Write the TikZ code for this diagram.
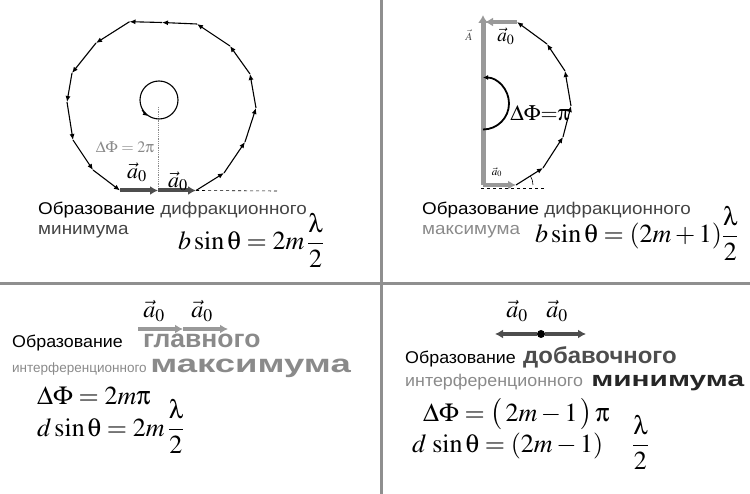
\documentclass[tikz,border=0pt]{standalone}
\usepackage{amsmath}
\usepackage{mathptmx}
\usepackage[Symbol]{upgreek}
\usepackage[no-math]{fontspec}
\newfontfamily\ru{Liberation Sans}
\usetikzlibrary{arrows.meta}

\begin{document}
\begin{tikzpicture}[x=1pt,y=-1pt,font=\ru\fontsize{17}{20}\selectfont]
  \definecolor{rule}{HTML}{8F8F8F}
  \definecolor{vecdark}{HTML}{4D4D4D}
  \definecolor{veclight}{HTML}{999999}
  \definecolor{softgray}{HTML}{8A8A8A}
  \definecolor{inkgray}{HTML}{444444}
  \tikzset{
    link/.style={line width=1.1pt,-{Latex[length=6pt,width=5pt]}},
    avec/.style={line width=4pt,-{Latex[length=8pt,width=9pt]}},
    txt/.style={anchor=base west,inner sep=0pt},
    wide/.style={xscale=#1,transform shape},
    heavy/.style={font=\ru\bfseries\fontsize{#1}{#1}\selectfont},
    formula/.style={anchor=base west,inner sep=0pt,font=\fontsize{26}{30}\selectfont},
    vlabel/.style={inner sep=0pt,font=\fontsize{22}{26}\selectfont},
  }
  \useasboundingbox (0,0) rectangle (750,494);
  % quadrant rules
  \draw[rule,line width=3pt] (381,0) -- (381,494);
  \draw[rule,line width=3pt] (0,284) -- (750,284);

  % (1) diffraction minimum: closed chain of 16 vectors
  \foreach \n/\px/\py in {0/120/190.5,1/158/190.5,2/196/190.5,3/224/173,4/245/142,
      5/256/108,6/250/74,7/230/46,8/197/24,9/162/22.5,10/129.5/21.7,11/96/43,
      12/72/73,13/67/102,14/73/140,15/93/170}
    \coordinate (p\n) at (\px,\py);
  \foreach \a/\b in {2/3,3/4,4/5,5/6,6/7,7/8,8/9,9/10,10/11,11/12,12/13,13/14,14/15,15/0}
    \draw[link] (p\a) -- (p\b);
  \coordinate (tl-dash) at (278,191);
  \coordinate (tl-axis) at (158,107);
  \draw[dashed,line width=0.6pt] (p2) -- (tl-dash);
  \draw[softgray,densely dotted,line width=0.8pt] (tl-axis) -- (p1);
  \draw[avec,vecdark] (p0) -- (p1);
  \draw[avec,vecdark] (p1) -- (p2);
  \node[circle,draw,line width=1.1pt,minimum size=38pt,inner sep=0pt] (loop) at (159,100) {};
  \draw[-{Latex[length=5pt,width=4pt]},line width=1.1pt] (loop.210) arc[start angle=150,end angle=124,radius=19];
  \node[text=softgray,inner sep=0pt,font=\fontsize{16}{18}\selectfont] (tl-phase) at (125,147) {$\Delta\Phi = 2\uppi$};
  \node[vlabel] (tl-a1) at (137,172) {$\vec a_0$};
  \node[vlabel] (tl-a2) at (178,181) {$\vec a_0$};
  \node[txt,wide=1.11] (tl-t1) at (38,215) {Образование \textcolor{inkgray}{дифракционного}};
  \node[txt,wide=1.11,text=inkgray] (tl-t2) at (38,235) {минимума};
  \node[formula] (tl-f) at (178,250) {$b\sin\uptheta = 2m\,\dfrac{\uplambda}{2}$};

  % (2) diffraction maximum: half turn
  \foreach \n/\px/\py in {0/516/185,1/543/168,2/563/137,3/571/106,4/565/71,5/547/44,6/517/22}
    \coordinate (q\n) at (\px,\py);
  \foreach \a/\b in {0/1,1/2,2/3,3/4,4/5,5/6}
    \draw[link] (q\a) -- (q\b);
  \coordinate (tr-base) at (483,185);
  \coordinate (tr-top) at (483,15);
  \coordinate (tr-corner) at (485,22);
  \coordinate (tr-d0) at (481,188);
  \coordinate (tr-d1) at (544,188);
  \draw[dashed,line width=0.6pt] (tr-d0) -- (tr-d1);
  \draw[veclight,line width=5pt,-{Latex[length=8pt,width=10pt]}] (tr-base) -- (tr-top);
  \draw[veclight,avec] (tr-base) -- (q0);
  \draw[veclight,avec] (q6) -- (tr-corner);
  \draw[line width=0.6pt] (q0) ++(0:17) arc[start angle=0,end angle=-32,radius=17];
  \draw[line width=1.8pt,-{Latex[length=5pt,width=5pt]}] (483,129.5) arc[start angle=90,end angle=-90,radius=26];
  \node[inner sep=0pt,font=\fontsize{11}{13}\selectfont,text=inkgray] (tr-A) at (469,35) {$\vec A$};
  \node[inner sep=0pt,font=\fontsize{19}{22}\selectfont] (tr-a1) at (506,36) {$\vec a_0$};
  \node[inner sep=0pt,font=\fontsize{11}{13}\selectfont] (tr-a2) at (497,172) {$\vec a_0$};
  \node[inner sep=0pt,font=\fontsize{22}{26}\selectfont] (tr-phase) at (540,113) {$\Delta\Phi{=}\uppi$};
  \node[txt,wide=1.11] (tr-t1) at (422,215) {Образование \textcolor{inkgray}{дифракционного}};
  \node[txt,wide=1.11,text=softgray] (tr-t2) at (422,235) {максимума};
  \node[formula] (tr-f) at (535,243) {$b\sin\uptheta = (2m+1)\dfrac{\uplambda}{2}$};

  % (3) principal interference maximum
  \coordinate (bl-0) at (138,329);
  \coordinate (bl-1) at (183,329);
  \coordinate (bl-2) at (228,329);
  \draw[veclight,avec] (bl-0) -- (bl-1);
  \draw[veclight,avec] (bl-1) -- (bl-2);
  \node[vlabel,font=\fontsize{24}{28}\selectfont] (bl-a1) at (154,311) {$\vec a_0$};
  \node[vlabel,font=\fontsize{24}{28}\selectfont] (bl-a2) at (202,311) {$\vec a_0$};
  \node[txt,wide=1.05] (bl-t1) at (12,348) {Образование};
  \node[txt,heavy=25,wide=1.06,text=softgray] (bl-t2) at (143,348) {главного};
  \node[txt,font=\ru\fontsize{13.5}{16}\selectfont,text=softgray] (bl-t3) at (12,373) {интерференционного};
  \node[txt,heavy=25,wide=1.46,text=softgray] (bl-t4) at (150,373) {максимума};
  \node[formula] (bl-f1) at (37,405) {$\Delta\Phi = 2m\uppi$};
  \node[formula] (bl-f2) at (37,436) {$d\sin\uptheta = 2m\,\dfrac{\uplambda}{2}$};

  % (4) additional interference minimum
  \node[circle,fill,inner sep=0pt,minimum size=8pt] (br-dot) at (541,334) {};
  \coordinate (br-l) at (495,334);
  \coordinate (br-r) at (586,334);
  \draw[vecdark,avec] (br-dot) -- (br-l);
  \draw[vecdark,avec] (br-dot) -- (br-r);
  \node[vlabel,font=\fontsize{24}{28}\selectfont] (br-a1) at (517,311) {$\vec a_0$};
  \node[vlabel,font=\fontsize{24}{28}\selectfont] (br-a2) at (557,311) {$\vec a_0$};
  \node[txt,wide=1.05] (br-t1) at (405,363) {Образование};
  \node[txt,heavy=23,wide=1.04,text=vecdark] (br-t2) at (523,363) {добавочного};
  \node[txt,wide=1.05,text=softgray] (br-t3) at (405,387) {интерференционного};
  \node[txt,heavy=21,wide=1.42,text=black!85] (br-t4) at (591,387) {минимума};
  \node[formula] (br-f1) at (423,421) {$\Delta\Phi = \bigl(\,2m-1\,\bigr)\,\uppi$};
  \node[formula] (br-f2) at (412,452) {$d\,\sin\uptheta = (2m-1)\quad\,\dfrac{\uplambda}{2}$};
\end{tikzpicture}
\end{document}
